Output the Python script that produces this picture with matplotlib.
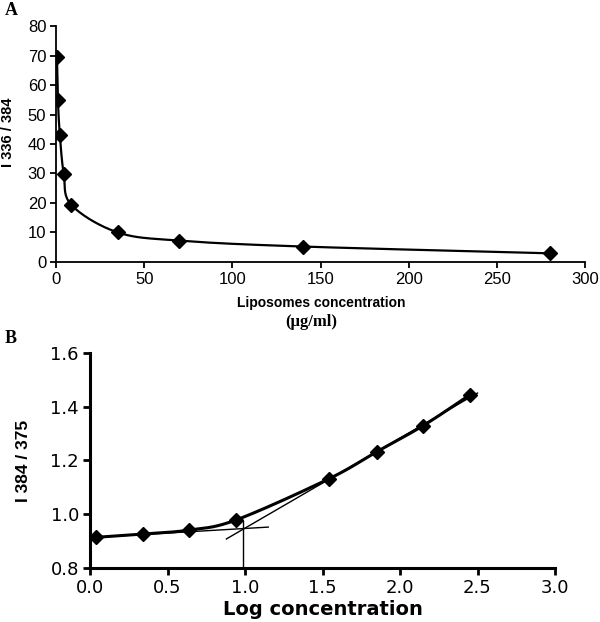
import numpy as np
import matplotlib
matplotlib.use('Agg')
import matplotlib.pyplot as plt

# panel A: fluorescence ratio vs liposome concentration
conc_a = [0.55, 1.1, 2.2, 4.4, 8.75, 35, 70, 140, 280]
ratio_a = [69.6, 54.8, 43.0, 29.8, 19.3, 10.0, 7.2, 5.2, 2.9]

# panel B: ratio vs log concentration
logc_b = [0.04, 0.34, 0.64, 0.94, 1.54, 1.85, 2.15, 2.45]
ratio_b = [0.914, 0.926, 0.941, 0.978, 1.131, 1.232, 1.329, 1.443]

# tangent lines and the CMC marker in B
tan1_x = [0.0, 1.15]
tan1_y = [0.913, 0.952]
tan2_x = [0.88, 2.5]
tan2_y = [0.908, 1.45]
cmc_x = 0.985
cmc_y = [0.8, 0.975]


def smooth(x, y, sx, sy, n=30):
    # excel-like smoothed line (bezier through points), done in scaled coords
    p = np.column_stack([np.asarray(x) / sx, np.asarray(y) / sy])
    out = []
    for i in range(len(p) - 1):
        p0 = p[i - 1] if i > 0 else p[i]
        p1, p2 = p[i], p[i + 1]
        p3 = p[i + 2] if i + 2 < len(p) else p[i + 1]
        c1 = p1 + (p2 - p0) / 6
        c2 = p2 - (p3 - p1) / 6
        t = np.linspace(0, 1, n)[:, None]
        seg = (1 - t) ** 3 * p1 + 3 * (1 - t) ** 2 * t * c1 + 3 * (1 - t) * t ** 2 * c2 + t ** 3 * p2
        out.append(seg)
    out = np.vstack(out)
    return out[:, 0] * sx, out[:, 1] * sy


plt.rcParams['font.family'] = ['Liberation Sans', 'DejaVu Sans']

fig = plt.figure(figsize=(6, 6.22), dpi=100)

# ---- A ----
ax1 = fig.add_axes([0.0933, 0.579, 0.882, 0.379])
sx, sy = smooth(conc_a, ratio_a, 300, 80)
ax1.plot(sx, sy, color='black', lw=1.6)
ax1.plot(conc_a, ratio_a, ls='none', marker='D', ms=7, color='black')
ax1.set_xlim(0, 300)
ax1.set_ylim(0, 80)
ax1.set_xticks(np.arange(0, 301, 50))
ax1.set_yticks(np.arange(0, 81, 10))
for s in ['top', 'right']:
    ax1.spines[s].set_visible(False)
for s in ['left', 'bottom']:
    ax1.spines[s].set_linewidth(1.3)
ax1.tick_params(direction='out', length=4, width=1.3, labelsize=12, pad=3)
ax1.set_ylabel('I 336 / 384', fontsize=10.5, fontweight='bold')
ax1.yaxis.set_label_coords(-0.078, 0.55)
fig.text(0.535, 0.513, 'Liposomes concentration', ha='center', va='center',
         fontsize=10, fontweight='bold')
fig.text(0.518, 0.482, '(\u03bcg/ml)', ha='center', va='center',
         fontsize=12, fontweight='bold', family='Liberation Serif')
fig.text(0.008, 0.983, 'A', ha='left', va='center', fontsize=13,
         fontweight='bold', family='Liberation Serif')

# ---- B ----
ax2 = fig.add_axes([0.15, 0.0868, 0.775, 0.3462])
bx, by = smooth(logc_b, ratio_b, 3.0, 0.8)
ax2.plot(bx, by, color='black', lw=2.2)
ax2.plot(tan1_x, tan1_y, color='black', lw=1.0)
ax2.plot(tan2_x, tan2_y, color='black', lw=1.0)
ax2.plot([cmc_x, cmc_x], cmc_y, color='black', lw=1.0)
ax2.plot(logc_b, ratio_b, ls='none', marker='D', ms=7, color='black')
ax2.set_xlim(0, 3.0)
ax2.set_ylim(0.8, 1.6)
ax2.set_xticks(np.arange(0, 3.01, 0.5))
ax2.set_yticks([0.8, 1.0, 1.2, 1.4, 1.6])
ax2.xaxis.set_major_formatter(plt.FormatStrFormatter('%.1f'))
ax2.yaxis.set_major_formatter(plt.FormatStrFormatter('%.1f'))
for s in ['top', 'right']:
    ax2.spines[s].set_visible(False)
for s in ['left', 'bottom']:
    ax2.spines[s].set_linewidth(2.2)
ax2.tick_params(direction='out', length=5, width=2.0, labelsize=13, pad=3)
for lab in ax2.get_xticklabels() + ax2.get_yticklabels():
    lab.set_family(['DejaVu Sans'])
ax2.set_xlabel('Log concentration', fontsize=14, fontweight='bold',
               family=['DejaVu Sans'], labelpad=2)
ax2.set_ylabel('I 384 / 375', fontsize=12.5, fontweight='bold')
ax2.yaxis.set_label_coords(-0.126, 0.497)
fig.text(0.008, 0.455, 'B', ha='left', va='center', fontsize=13,
         fontweight='bold', family='Liberation Serif')

fig.savefig('out.png', dpi=100)
